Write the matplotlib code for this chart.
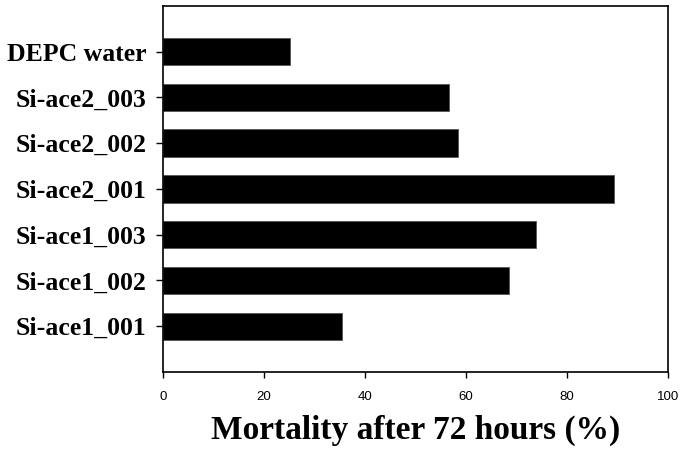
import numpy as np
import matplotlib
matplotlib.use("Agg")
from matplotlib import pyplot as plt

# data, bottom to top
groups = ["Si-ace1_001", "Si-ace1_002", "Si-ace1_003", "Si-ace2_001",
          "Si-ace2_002", "Si-ace2_003", "DEPC water"]
mortality = [35.4, 68.6, 73.9, 89.4, 58.5, 56.6, 25.2]
x_ticks = [0, 20, 40, 60, 80, 100]

fig = plt.figure(figsize=(6.87, 4.57), dpi=100)
ax = fig.add_axes([0.237, 0.186, 0.735, 0.801])

pos = np.arange(len(groups))
ax.barh(pos, mortality, height=0.6, color="black", edgecolor="#555555", linewidth=0.6)

ax.set_xlim(0, 100)
ax.set_ylim(-1, 7)
ax.set_xticks(x_ticks)
ax.set_xticklabels([str(t) for t in x_ticks], fontsize=9.5, family="Liberation Sans")
ax.set_yticks(pos)
ax.set_yticklabels(groups, fontsize=18.5, fontweight="bold", family="Liberation Serif")

ax.tick_params(axis="x", direction="out", length=4, width=1, pad=10)
ax.tick_params(axis="y", direction="out", length=5, width=1, pad=7)
for s in ax.spines.values():
    s.set_linewidth(1.2)

ax.set_xlabel("Mortality after 72 hours (%)", fontsize=24, fontweight="bold",
              family="Liberation Serif", labelpad=8)

fig.savefig("out.png", dpi=100)
